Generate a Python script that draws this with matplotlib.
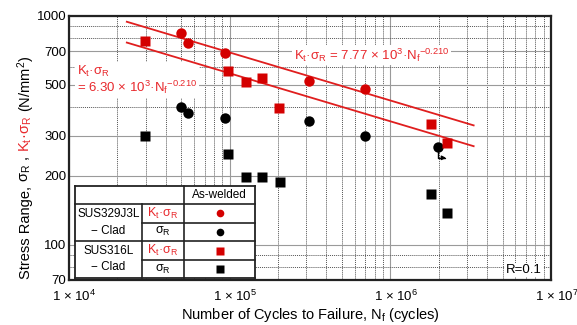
import matplotlib
matplotlib.use("Agg")
import matplotlib.pyplot as plt
import matplotlib.ticker as mticker
from matplotlib.transforms import ScaledTranslation
import numpy as np

plt.rcParams['font.family'] = ['Liberation Sans', 'DejaVu Sans']
plt.rcParams['mathtext.fontset'] = 'custom'
plt.rcParams['mathtext.rm'] = 'Liberation Sans'
plt.rcParams['mathtext.it'] = 'Liberation Sans'
plt.rcParams['mathtext.bf'] = 'Liberation Sans:bold'

RED = '#d40000'
RED_TXT = '#e8282c'

# SUS329J3L-Clad, as-welded
kt_329_n = [49800, 55300, 93500, 313000, 698000]
kt_329_s = [840, 760, 687, 521, 478]
sr_329_n = [49800, 55300, 94000, 313000, 698000, 1977000]
sr_329_s = [399, 375, 359, 347, 298, 268]
runout_n = [1977000]
runout_s = [268]

# SUS316L-Clad, as-welded
kt_316_n = [29600, 97200, 125800, 159000, 203500, 1782000, 2240000]
kt_316_s = [778, 573, 514, 535, 397, 337, 277]
sr_316_n = [29600, 97200, 125800, 159000, 205000, 1782000, 2240000]
sr_316_s = [298, 248, 198, 198, 187, 167, 138]

# S-N design curves  Kt*sigma_R = C * Nf^m
fit_upper = (7.77e3, -0.210)
fit_lower = (6.30e3, -0.210)
fit_range = [2.29e4, 3.3e6]

y_ticks = [70, 100, 200, 300, 500, 700, 1000]
x_ticks = [1e4, 1e5, 1e6, 1e7]
x_tick_labels = ['1 × 10$^4$', '1 × 10$^5$', '1 × 10$^6$', '1 × 10$^7$']

W, H = 577, 325


def fig_rect(x0, y0, x1, y1):
    """pixel box (top-left origin) -> figure fraction rect"""
    return [x0 / W, (H - y1) / H, (x1 - x0) / W, (y1 - y0) / H]


def draw_main(fig):
    ax = fig.add_axes(fig_rect(69, 16, 551, 280))
    ax.set_xscale('log')
    ax.set_yscale('log')
    ax.set_xlim(1e4, 1e7)
    ax.set_ylim(70, 1000)

    # grid
    ax.xaxis.set_minor_locator(mticker.LogLocator(base=10, subs=np.arange(2, 10)))
    ax.yaxis.set_minor_locator(mticker.FixedLocator([80, 90, 200, 300, 400, 500, 600, 700, 800, 900]))
    ax.yaxis.set_major_locator(mticker.FixedLocator([100, 1000]))
    ax.grid(True, which='major', color='#9a9a9a', lw=0.8, ls='-')
    ax.grid(True, which='minor', color='#555555', lw=0.7, ls=(0, (1, 1)))
    ax.set_axisbelow(True)

    ax.set_xticks(x_ticks)
    ax.set_xticklabels(x_tick_labels, fontsize=9.5)
    ax.set_yticks(y_ticks)
    ax.set_yticklabels([str(v) for v in y_ticks], fontsize=9.5)
    ax.yaxis.set_minor_formatter(mticker.NullFormatter())
    ax.xaxis.set_minor_formatter(mticker.NullFormatter())
    ax.tick_params(which='both', length=0)
    ax.tick_params(axis='x', pad=6)
    ax.tick_params(axis='y', pad=2)
    for lbl in ax.get_xticklabels():
        lbl.set_transform(lbl.get_transform() + ScaledTranslation(4 / 72, 0, fig.dpi_scale_trans))

    for sp in ax.spines.values():
        sp.set_linewidth(1.6)
        sp.set_color('#222222')

    # design curves
    n = np.array(fit_range)
    for c, m in (fit_upper, fit_lower):
        ax.plot(n, c * n ** m, color='#e01e1e', lw=1.3, zorder=3)

    ms = 7.5
    ax.plot(kt_329_n, kt_329_s, 'o', color=RED, ms=ms, mec='none', zorder=4)
    ax.plot(sr_329_n, sr_329_s, 'o', color='black', ms=ms, mec='none', zorder=4)
    ax.plot(kt_316_n, kt_316_s, 's', color=RED, ms=ms, mec='none', zorder=4)
    ax.plot(sr_316_n, sr_316_s, 's', color='black', ms=ms, mec='none', zorder=4)

    # run-out arrow
    for rn, rs in zip(runout_n, runout_s):
        ax.annotate('', xy=(rn, rs), xycoords='data', xytext=(6, -8), textcoords='offset points',
                    arrowprops=dict(arrowstyle='<|-', color='black', lw=1.0, shrinkA=0, shrinkB=0,
                                    mutation_scale=6,
                                    connectionstyle='angle,angleA=0,angleB=90,rad=0'),
                    zorder=3)

    # equations
    box = dict(facecolor='white', edgecolor='none', pad=1)
    ax.text(2.5e5, 675, 'K$_t$·σ$_R$ = 7.77 × 10$^3$·N$_f$$^{−0.210}$', color=RED_TXT,
            fontsize=9.5, va='center', ha='left', bbox=box, zorder=2)
    ax.text(1.12e4, 525, 'K$_t$·σ$_R$\n= 6.30 × 10$^3$·N$_f$$^{−0.210}$', color=RED_TXT,
            fontsize=9.5, va='center', ha='left', linespacing=1.05, bbox=box, zorder=2)

    ax.text(0.981, 0.038, 'R=0.1', transform=ax.transAxes, fontsize=9.5, ha='right', va='center',
            bbox=dict(facecolor='white', edgecolor='none', pad=1))

    ax.set_xlabel('Number of Cycles to Failure, N$_f$ (cycles)', fontsize=10.5, labelpad=2)
    return ax


def draw_ylabel(fig):
    renderer = fig.canvas.get_renderer()
    pieces = [('Stress Range,', 'black'), ('σ$_R$ ,', 'black'),
              ('K$_t$·σ$_R$', RED_TXT), ('(N/mm$^2$)', 'black')]
    x = 26 / W
    y = (H - 279) / H
    for s, c in pieces:
        t = fig.text(x, y, s, rotation=90, ha='center', va='bottom', color=c, fontsize=10.5)
        bb = t.get_window_extent(renderer)
        y = (bb.y1 + 4) / fig.bbox.height


def draw_table(fig):
    x0, x1, y0, y1 = 75, 255, 186, 278
    at = fig.add_axes(fig_rect(x0, y0, x1, y1))
    at.set_xlim(x0, x1)
    at.set_ylim(y1, y0)
    at.set_xticks([])
    at.set_yticks([])
    at.set_facecolor('white')
    at.set_zorder(5)
    for sp in at.spines.values():
        sp.set_linewidth(1.3)
        sp.set_color('#222222')

    c1, c2 = 141.5, 183.5
    lk = dict(color='#222222', lw=1.2, clip_on=False)
    at.plot([x0, x1], [203.5, 203.5], **lk)
    at.plot([x0, x1], [241, 241], **lk)
    at.plot([c1, x1], [222.5, 222.5], **lk)
    at.plot([c1, x1], [260, 260], **lk)
    at.plot([c1, c1], [203.5, y1], **lk)
    at.plot([c2, c2], [y0, y1], **lk)

    fs = 8.5
    at.text(219.5, 195, 'As-welded', fontsize=fs, ha='center', va='center')
    at.text(108.5, 214, 'SUS329J3L', fontsize=fs, ha='center', va='center')
    at.text(108.5, 230.5, '− Clad', fontsize=fs, ha='center', va='center')
    at.text(108.5, 250.5, 'SUS316L', fontsize=fs, ha='center', va='center')
    at.text(108.5, 267.5, '− Clad', fontsize=fs, ha='center', va='center')

    rows = [(213, 'K$_t$·σ$_R$', RED_TXT, 'o', RED),
            (231.5, 'σ$_R$', 'black', 'o', 'black'),
            (250.5, 'K$_t$·σ$_R$', RED_TXT, 's', RED),
            (269, 'σ$_R$', 'black', 's', 'black')]
    for yy, lab, tc, mk, mc in rows:
        at.text(162.5, yy, lab, fontsize=9, color=tc, ha='center', va='center')
        at.plot([219.5], [yy], mk, color=mc, ms=5.5, mec='none')


def main():
    fig = plt.figure(figsize=(W / 100, H / 100), dpi=100)
    draw_main(fig)
    draw_table(fig)
    draw_ylabel(fig)
    fig.savefig('out.png', dpi=100)


if __name__ == '__main__':
    main()
